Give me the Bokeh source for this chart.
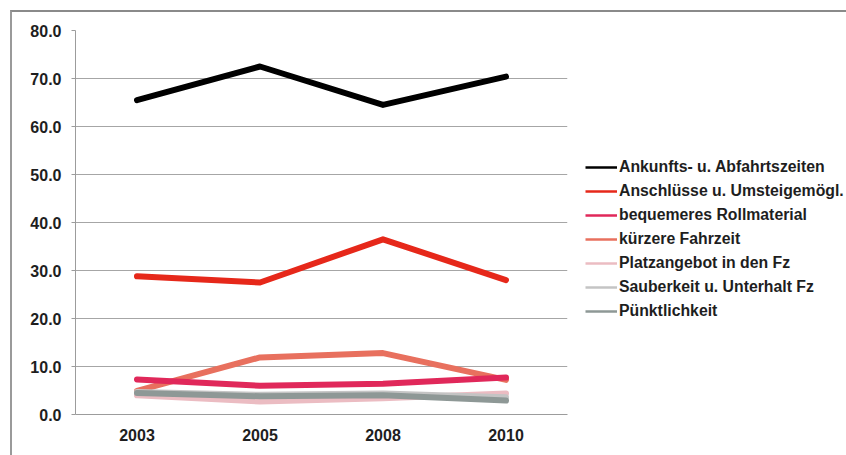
from bokeh.plotting import figure
from bokeh.models import (FactorRange, Range1d, Legend, LegendItem,
                          SingleIntervalTicker, NumeralTickFormatter)
from bokeh.embed import file_html
from bokeh.resources import INLINE

# Survey years
years = ["2003", "2005", "2008", "2010"]

# Share of answers per criterion (percent)
ankunft_abfahrt = [65.5, 72.5, 64.5, 70.4]
anschluesse = [28.8, 27.5, 36.5, 28.0]
rollmaterial = [7.3, 6.0, 6.4, 7.7]
fahrzeit = [4.9, 11.9, 12.8, 7.2]
platzangebot = [4.0, 2.7, 3.4, 4.4]
sauberkeit = [4.7, 4.1, 4.4, 3.6]
puenktlichkeit = [4.5, 3.8, 4.0, 2.9]

series_names = [
    "Ankunfts- u. Abfahrtszeiten",
    "Anschlüsse u. Umsteigemögl.",
    "bequemeres Rollmaterial",
    "kürzere Fahrzeit",
    "Platzangebot in den Fz",
    "Sauberkeit u. Unterhalt Fz",
    "Pünktlichkeit",
]
series_values = [ankunft_abfahrt, anschluesse, rollmaterial, fahrzeit,
                 platzangebot, sauberkeit, puenktlichkeit]
series_colors = ["#000000", "#e6281a", "#e0285a", "#e8705e",
                 "#ebbcc2", "#c4c4c4", "#8e9896"]

FONT = "Liberation Sans"
TEXT = "#1e1e1e"

p = figure(
    width=836, height=445, frame_width=492, frame_height=384,
    x_range=FactorRange(factors=years, range_padding=0),
    y_range=Range1d(0, 80),
    output_backend="svg", toolbar_location=None,
    min_border_left=63, min_border_top=18, min_border_bottom=43, min_border_right=0,
)
p.styles = {
    "margin-left": "10px", "margin-top": "10px",
    "border-top": "2px solid #8a8a8a", "border-left": "2px solid #9a9a9a",
}
p.outline_line_color = None
p.background_fill_color = "white"
p.border_fill_color = "white"

# Axes
p.yaxis.ticker = SingleIntervalTicker(interval=10)
p.yaxis.formatter = NumeralTickFormatter(format="0.0")
for ax in (p.xaxis[0], p.yaxis[0]):
    ax.axis_line_color = "#9c9c9c"
    ax.major_tick_line_color = "#9c9c9c"
    ax.minor_tick_line_color = None
    ax.major_label_text_font = FONT
    ax.major_label_text_font_style = "bold"
    ax.major_label_text_font_size = "16px"
    ax.major_label_text_color = TEXT
p.yaxis.major_tick_out = 4
p.yaxis.major_tick_in = 0
p.yaxis.major_label_standoff = 10
p.xaxis.major_tick_out = 0
p.xaxis.major_tick_in = 0
p.xaxis.major_label_standoff = 14

p.xgrid.grid_line_color = None
p.ygrid.grid_line_color = "#a6a6a6"
p.ygrid.grid_line_width = 1

# Data lines (drawn bottom-up so the leading series sit on top)
order = [3, 2, 4, 5, 6, 1, 0]
for i in order:
    p.line(x=years, y=series_values[i], line_color=series_colors[i],
           line_width=6, line_join="round", line_cap="round")

# Thin legend swatches (proxy lines without visible points)
nan = float("nan")
items = []
for name, color in zip(series_names, series_colors):
    r = p.line(x=years, y=[nan] * len(years), line_color=color, line_width=2.5)
    items.append(LegendItem(label=name, renderers=[r]))

legend = Legend(
    items=items, location=(18, 91),
    glyph_width=32, glyph_height=24, label_height=24, spacing=0,
    label_standoff=2, padding=0, margin=0,
    label_text_font=FONT, label_text_font_style="bold",
    label_text_font_size="15.8px", label_text_color=TEXT,
    background_fill_alpha=0, border_line_color=None,
)
p.add_layout(legend, "right")

open("out.html", "w").write(file_html(p, INLINE))
